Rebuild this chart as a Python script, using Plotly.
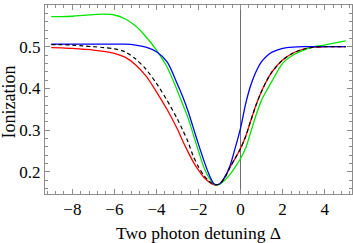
import plotly.graph_objects as go

# Detuning grid
delta = [-9, -8.5, -8, -7.5, -7, -6.5, -6, -5.5, -5, -4.5, -4, -3.5, -3, -2.75, -2.5,
         -2.25, -2, -1.75, -1.5, -1.25, -1, -0.75, -0.5, -0.25, 0, 0.25, 0.5, 0.75,
         1, 1.25, 1.5, 2, 2.5, 3, 3.5, 4, 4.5, 5]

red = [0.498, 0.497, 0.496, 0.494, 0.492, 0.489, 0.484, 0.475, 0.457, 0.430, 0.392,
       0.350, 0.302, 0.274, 0.248, 0.224, 0.204, 0.187, 0.176, 0.169, 0.171, 0.186,
       0.211, 0.233, 0.256, 0.286, 0.325, 0.362, 0.393, 0.419, 0.440, 0.468, 0.485,
       0.494, 0.499, 0.500, 0.500, 0.500]

black_dashed = [0.505, 0.505, 0.504, 0.502, 0.500, 0.498, 0.495, 0.488, 0.471, 0.446,
                0.412, 0.372, 0.326, 0.300, 0.272, 0.238, 0.212, 0.192, 0.178, 0.169,
                0.171, 0.186, 0.211, 0.233, 0.256, 0.286, 0.325, 0.362, 0.393, 0.419,
                0.440, 0.468, 0.485, 0.494, 0.499, 0.500, 0.500, 0.500]

blue = [0.506, 0.506, 0.506, 0.506, 0.506, 0.506, 0.506, 0.506, 0.504, 0.499, 0.488,
        0.464, 0.410, 0.380, 0.346, 0.306, 0.266, 0.228, 0.194, 0.171, 0.171, 0.188,
        0.215, 0.258, 0.305, 0.365, 0.410, 0.442, 0.464, 0.478, 0.487, 0.496, 0.499,
        0.500, 0.500, 0.500, 0.500, 0.500]

green = [0.572, 0.572, 0.573, 0.575, 0.577, 0.578, 0.576, 0.567, 0.550, 0.524, 0.492,
         0.452, 0.394, 0.362, 0.330, 0.290, 0.250, 0.212, 0.186, 0.170, 0.170, 0.180,
         0.194, 0.212, 0.232, 0.258, 0.298, 0.338, 0.372, 0.396, 0.418, 0.460, 0.480,
         0.492, 0.500, 0.504, 0.509, 0.514]

x_ticks = [-8, -6, -4, -2, 0, 2, 4]
x_ticktext = ["\u22128", "\u22126", "\u22124", "\u22122", "0", "2", "4"]
y_ticks = [0.2, 0.3, 0.4, 0.5, 0.6]
y_ticktext = ["0.2", "0.3", "0.4", "0.5", "0.6"]
x_title = "Two photon detuning \u0394"
y_title = "Ionization"

fig = go.Figure()
series = [
    (red, "rgb(255,0,0)", "solid", 1.3),
    (green, "rgb(0,230,0)", "solid", 1.3),
    (blue, "rgb(0,0,255)", "solid", 1.3),
    (black_dashed, "rgb(0,0,0)", "4px,3px", 1.2),
]
for ys, col, dash, w in series:
    fig.add_trace(go.Scatter(x=delta, y=ys, mode="lines",
                             line=dict(color=col, width=w, dash=dash, shape="spline", smoothing=0.8),
                             showlegend=False, hoverinfo="skip"))

font = "Liberation Serif"
frame = "rgb(140,140,140)"
fig.update_layout(
    width=353, height=243,
    margin=dict(l=45, r=1, t=5, b=49, autoexpand=False),
    paper_bgcolor="white", plot_bgcolor="white",
    font=dict(family=font, size=17, color="black"),
    xaxis=dict(range=[-9.3, 5.3], tickvals=x_ticks, ticktext=x_ticktext, automargin=False,
               ticks="inside", ticklen=5, tickcolor=frame, tickwidth=1,
               showline=True, linecolor=frame, linewidth=1, mirror="ticks",
               showgrid=False, zeroline=True, zerolinecolor="rgb(110,110,110)", zerolinewidth=1.2,
               minor=dict(dtick=0.4, tick0=0, ticks="inside", ticklen=3, tickcolor=frame, showgrid=False),
               tickfont=dict(family=font, size=17, color="black")),
    yaxis=dict(range=[0.147, 0.6], tickvals=y_ticks, ticktext=y_ticktext, automargin=False,
               ticks="inside", ticklen=5, tickcolor=frame, tickwidth=1,
               showline=True, linecolor=frame, linewidth=1, mirror="ticks",
               showgrid=False, zeroline=False,
               minor=dict(dtick=0.02, tick0=0, ticks="inside", ticklen=3, tickcolor=frame, showgrid=False),
               tickfont=dict(family=font, size=17, color="black")),
    annotations=[
        dict(text=x_title, xref="paper", yref="paper", x=0.5, y=0, xanchor="center", yanchor="middle",
             yshift=-39, showarrow=False, font=dict(family=font, size=17.5)),
        dict(text=y_title, xref="paper", yref="paper", x=0, y=0.5, xanchor="center", yanchor="middle",
             xshift=-37, yshift=-3, textangle=-90, showarrow=False, font=dict(family=font, size=18)),
    ],
)
fig.write_html("out.html", config={"displayModeBar": False},
               post_script="document.body.style.margin='0';document.body.style.overflow='hidden';")
